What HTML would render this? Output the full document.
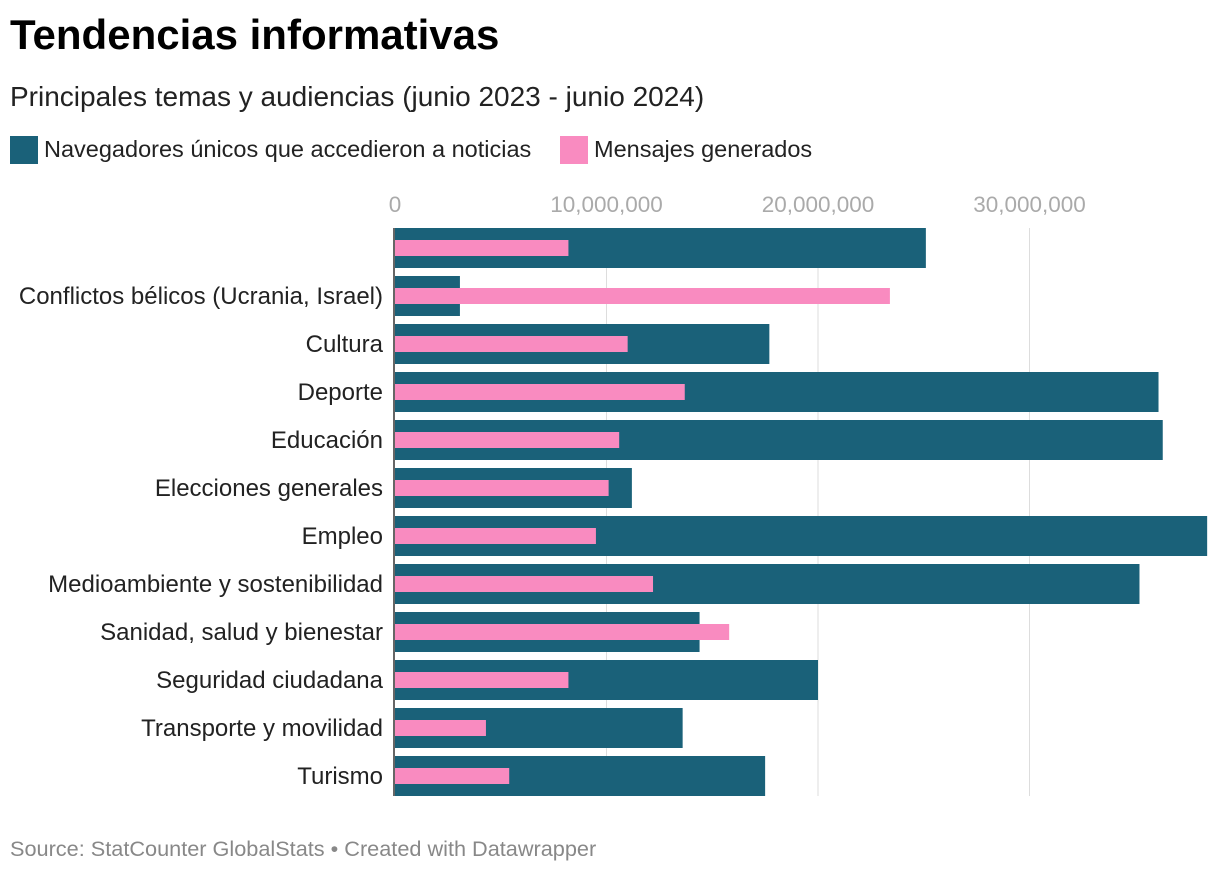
<!DOCTYPE html>
<html><head><meta charset="utf-8"><style>
body{margin:0;width:1220px;height:874px;background:#fff;font-family:"Liberation Sans",sans-serif;position:relative;overflow:hidden}
.t{position:absolute;white-space:nowrap}
</style></head><body>
<div class="t" style="left:10px;top:11px;font-size:42px;font-weight:bold;color:#000">Tendencias informativas</div>
<div class="t" style="left:10px;top:81px;font-size:28px;color:#222">Principales temas y audiencias (junio 2023 - junio 2024)</div>
<div class="t" style="left:10px;top:136px;font-size:23.5px;color:#222"><span style="display:inline-block;width:28px;height:28px;background:#1a6179;vertical-align:-7px;margin-right:6px"></span>Navegadores únicos que accedieron a noticias</div>
<div class="t" style="left:560px;top:136px;font-size:23.5px;color:#222"><span style="display:inline-block;width:28px;height:28px;background:#f98bc0;vertical-align:-7px;margin-right:6px"></span>Mensajes generados</div>
<svg id="chart" width="1220" height="874" style="position:absolute;left:0;top:0"></svg>
<div class="t" style="left:10px;top:836px;font-size:21.7px;color:#888">Source: StatCounter GlobalStats • Created with Datawrapper</div>
<script>
const categories=["","Conflictos bélicos (Ucrania, Israel)","Cultura","Deporte","Educación","Elecciones generales","Empleo","Medioambiente y sostenibilidad","Sanidad, salud y bienestar","Seguridad ciudadana","Transporte y movilidad","Turismo"];
const navegadores=[25.1,3.07,17.7,36.1,36.3,11.2,38.4,35.2,14.4,20.0,13.6,17.5];
const mensajes=[8.2,23.4,11.0,13.7,10.6,10.1,9.5,12.2,15.8,8.2,4.3,5.4];
const ticks=[0,10,20,30];
const tickLabels=["0","10,000,000","20,000,000","30,000,000"];
const svg=document.getElementById('chart');
const NS='http://www.w3.org/2000/svg';
const x=v=>395+v*21.15;
const y=i=>248+i*48;
function mk(tag,a){const e=document.createElementNS(NS,tag);for(const k in a)e.setAttribute(k,a[k]);svg.appendChild(e);return e;}
ticks.forEach((t,i)=>{
 if(t>0){const g=mk('line',{x1:x(t),x2:x(t),y1:228,y2:796,stroke:'#ddd','stroke-width':1});
 
 }
 const l=mk('text',{x:x(t),y:212,'text-anchor':'middle','font-size':22.5,fill:'#aaa'});
 l.textContent=tickLabels[i];
 
 
});
categories.forEach((c,i)=>{
 const b=mk('rect',{x:x(0),y:y(i)-20,width:x(navegadores[i])-x(0),height:40,fill:'#1a6179'});
 
 
 const p=mk('rect',{x:x(0),y:y(i)-8,width:x(mensajes[i])-x(0),height:16,fill:'#f98bc0'});
 
 
 const l=mk('text',{x:383,y:y(i)+8,'text-anchor':'end','font-size':24,fill:'#222'});
 l.textContent=c;
 
 
});
const ax=mk('line',{x1:394,x2:394,y1:228,y2:796,stroke:'#333','stroke-width':1.5});


</script>
</body></html>
